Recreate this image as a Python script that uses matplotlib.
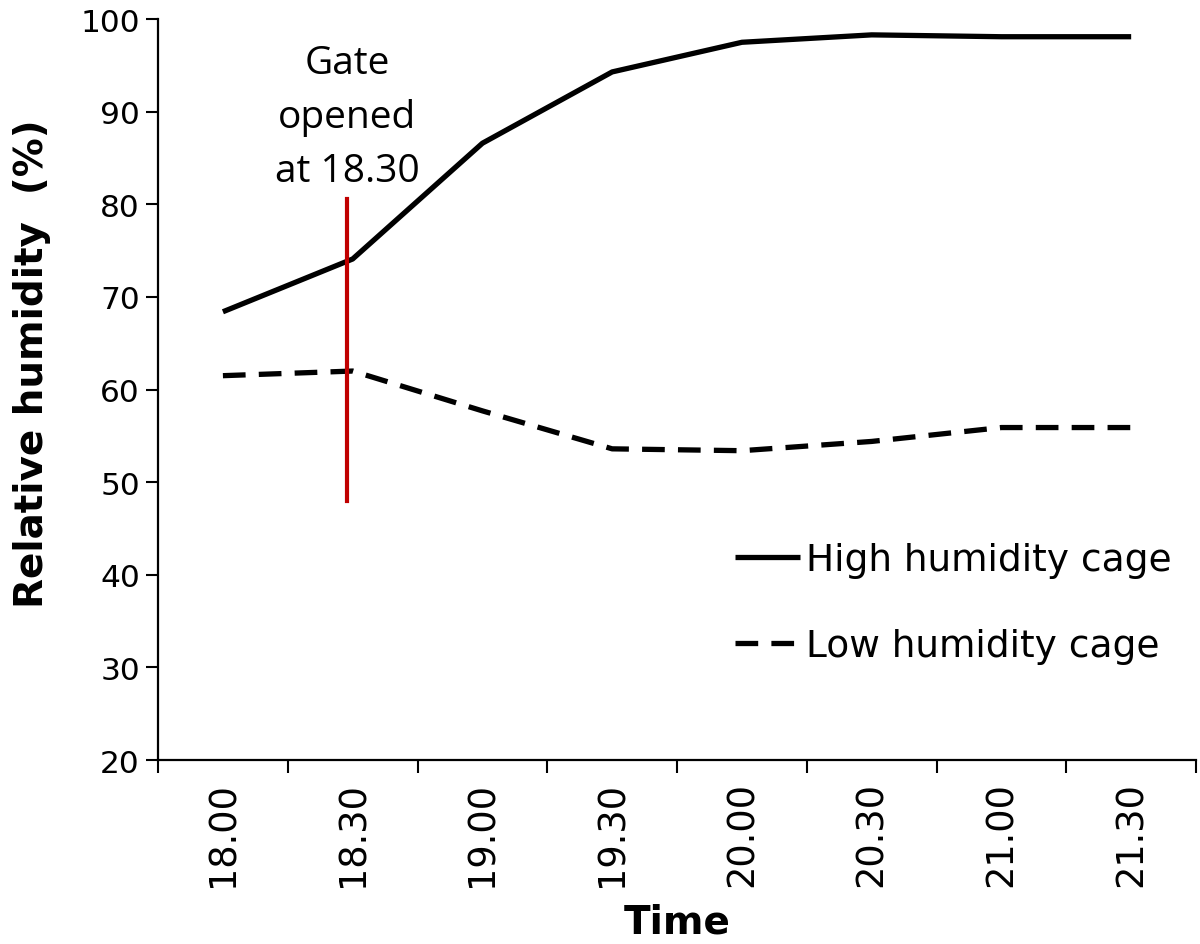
import matplotlib
matplotlib.use("Agg")
import matplotlib.pyplot as plt

times = ["18.00", "18.30", "19.00", "19.30", "20.00", "20.30", "21.00", "21.30"]
high_humidity = [68.4, 74.1, 86.6, 94.3, 97.5, 98.3, 98.1, 98.1]
low_humidity = [61.5, 62.0, 57.7, 53.6, 53.4, 54.4, 55.9, 55.9]
gate_x = 0.96          # where the gate marker was drawn (near 18.30)
gate_span = [48.0, 80.6]

fig = plt.figure(figsize=(12, 9.45), dpi=100)
ax = fig.add_axes([0.1317, 0.1947, 0.865, 0.784])

x = list(range(len(times)))
ax.plot(x, high_humidity, color="black", lw=3.8, solid_capstyle="butt",
        label="High humidity cage")
ax.plot(x, low_humidity, color="black", lw=3.8, linestyle=(0, (4.3, 2.5)),
        dash_capstyle="butt", label="Low humidity cage")
ax.plot([gate_x, gate_x], gate_span, color="#C00000", lw=3.0)

ax.text(gate_x, 82.5, "Gate\nopened\nat 18.30", ha="center", va="baseline",
        fontsize=28, family="Open Sans", linespacing=1.55)

ax.set_xlim(-0.5, len(times) - 0.5)
ax.set_ylim(20, 100)
ax.set_yticks(range(20, 101, 10))
ax.tick_params(axis="y", labelsize=22.5, length=9, width=1.5, direction="out", pad=4)

# tick marks sit between categories, labels sit on them
ax.set_xticks([i - 0.5 for i in range(len(times) + 1)])
ax.set_xticklabels([])
ax.set_xticks(x, minor=True)
ax.set_xticklabels(times, minor=True, rotation=90, fontsize=26.5)
ax.tick_params(axis="x", which="major", length=9, width=1.5, direction="out")
ax.tick_params(axis="x", which="minor", length=0, pad=15)

for side in ["top", "right"]:
    ax.spines[side].set_visible(False)
for side in ["left", "bottom"]:
    ax.spines[side].set_linewidth(1.6)

ax.set_ylabel("Relative humidity  (%)", fontsize=28, fontweight="bold")
ax.yaxis.set_label_coords(-0.103, 0.536)
ax.set_xlabel("Time", fontsize=28, fontweight="bold")
ax.xaxis.set_label_coords(0.5, -0.192)

ax.legend(loc="center left", bbox_to_anchor=(0.556, 0.212), frameon=False,
          fontsize=27, handlelength=1.73, handletextpad=0.15, labelspacing=1.35,
          borderpad=0, borderaxespad=0)

fig.savefig("out.png", dpi=100)
